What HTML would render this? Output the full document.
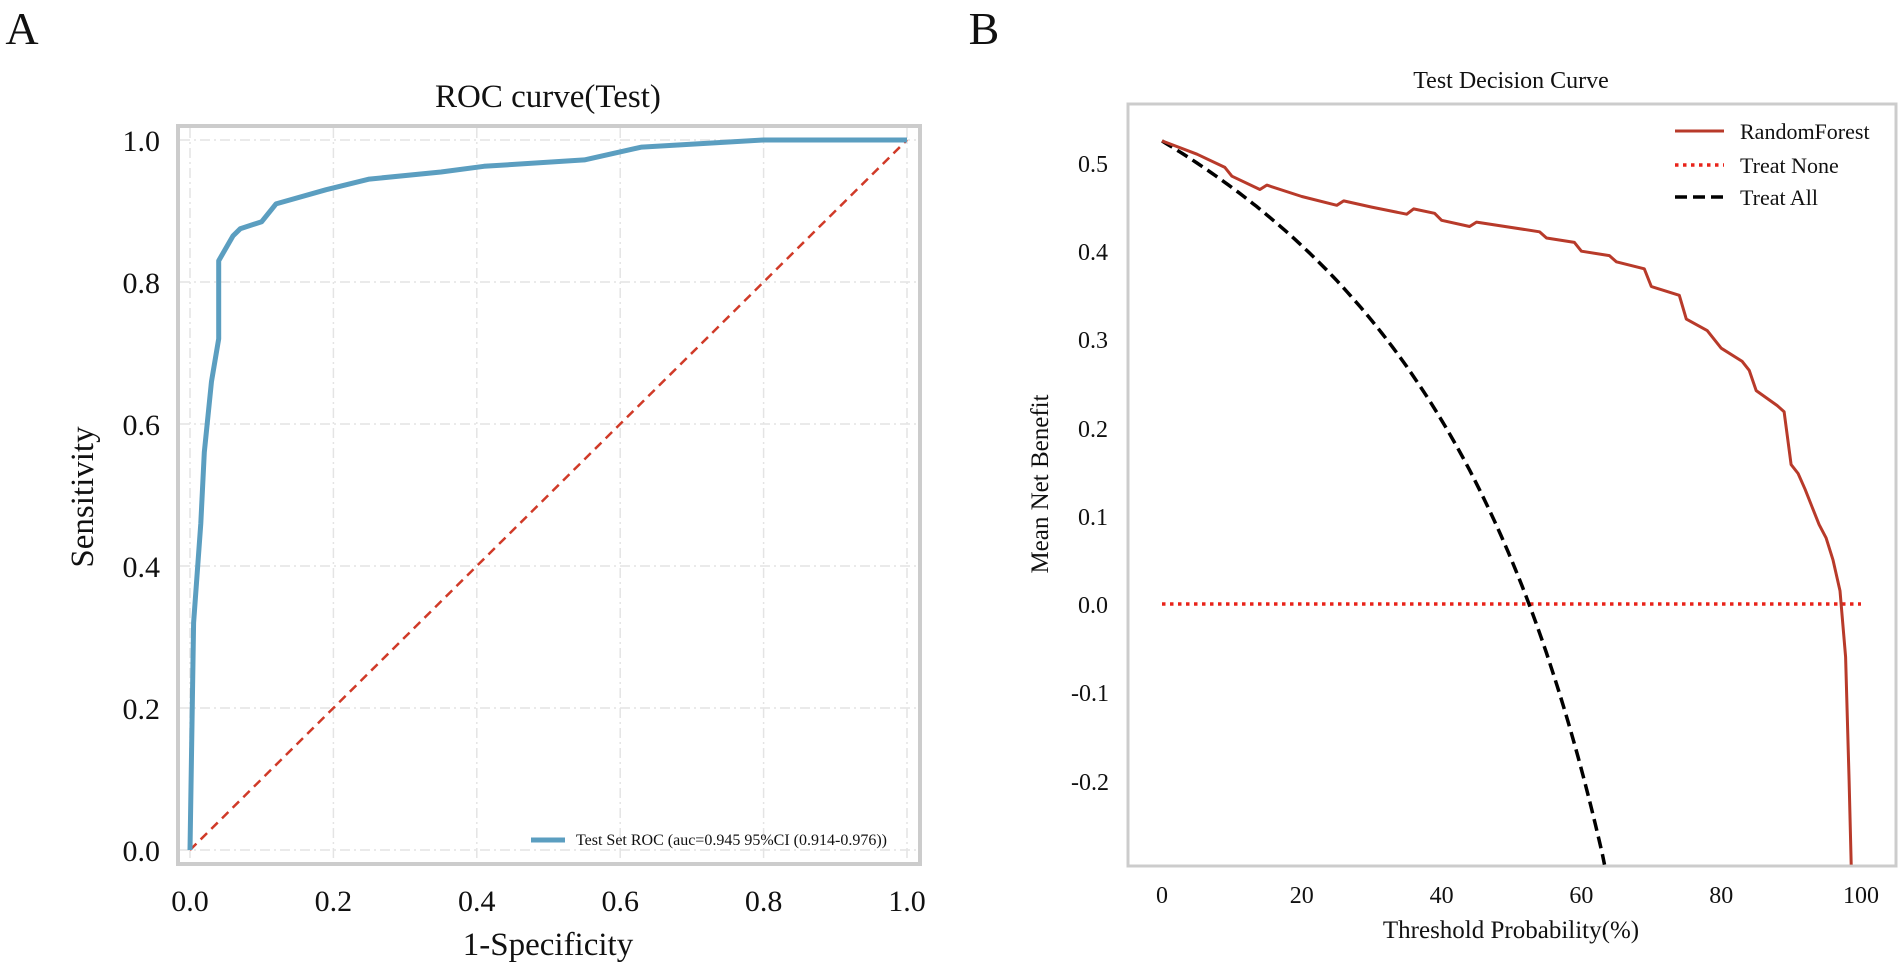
<!DOCTYPE html>
<html><head><meta charset="utf-8"><style>html,body{margin:0;padding:0;background:#fff}svg{display:block}</style></head>
<body>
<svg width="1900" height="967" viewBox="0 0 1900 967" xmlns="http://www.w3.org/2000/svg" font-family="Liberation Serif, serif" fill="#111">
<!-- Panel A -->
<text x="22" y="44" font-size="46" text-anchor="middle">A</text>
<text x="548" y="107" font-size="33" text-anchor="middle">ROC curve(Test)</text>
<g stroke="#e4e4e4" stroke-width="1.5" stroke-dasharray="10,4,2,4">
<line x1="190" y1="128" x2="190" y2="862"/><line x1="333.4" y1="128" x2="333.4" y2="862"/><line x1="476.8" y1="128" x2="476.8" y2="862"/><line x1="620.2" y1="128" x2="620.2" y2="862"/><line x1="763.6" y1="128" x2="763.6" y2="862"/><line x1="907" y1="128" x2="907" y2="862"/>
<line x1="180" y1="140" x2="918" y2="140"/><line x1="180" y1="282" x2="918" y2="282"/><line x1="180" y1="424" x2="918" y2="424"/><line x1="180" y1="566" x2="918" y2="566"/><line x1="180" y1="708" x2="918" y2="708"/><line x1="180" y1="850" x2="918" y2="850"/>
</g>
<rect x="178" y="126" width="742" height="738" fill="none" stroke="#cccccc" stroke-width="4"/>
<line x1="190" y1="850" x2="907" y2="140" stroke="#d03a28" stroke-width="2.5" stroke-dasharray="9,6"/>
<polyline fill="none" stroke="#5b9ec0" stroke-width="5" stroke-linejoin="round" points="190,850 193.6,622.8 200.8,523.4 204.3,452.4 211.5,381.4 218.7,338.8 218.7,260.7 233,235.9 240.2,228.8 261.7,221.7 276,203.9 326.2,189.7 369.3,179.1 441,172 484,166.3 584.4,159.9 641.7,147.1 763.6,140 907,140"/>
<g font-size="30" text-anchor="end">
<text x="160" y="151">1.0</text><text x="160" y="293">0.8</text><text x="160" y="435">0.6</text><text x="160" y="577">0.4</text><text x="160" y="719">0.2</text><text x="160" y="861">0.0</text>
</g>
<g font-size="30" text-anchor="middle">
<text x="190" y="911">0.0</text><text x="333.4" y="911">0.2</text><text x="476.8" y="911">0.4</text><text x="620.2" y="911">0.6</text><text x="763.6" y="911">0.8</text><text x="907" y="911">1.0</text>
</g>
<text x="548" y="955" font-size="33" text-anchor="middle">1-Specificity</text>
<text transform="translate(93,497) rotate(-90)" font-size="33" text-anchor="middle">Sensitivity</text>
<line x1="531" y1="840" x2="565" y2="840" stroke="#5b9ec0" stroke-width="5"/>
<text x="576" y="845" font-size="16">Test Set ROC (auc=0.945 95%CI (0.914-0.976))</text>

<!-- Panel B -->
<text x="984" y="44" font-size="46" text-anchor="middle">B</text>
<text x="1511" y="88" font-size="24" text-anchor="middle">Test Decision Curve</text>
<rect x="1128" y="104" width="768" height="762" fill="none" stroke="#cccccc" stroke-width="3"/>
<g font-size="24" text-anchor="middle">
<text x="1093" y="172">0.5</text><text x="1093" y="260">0.4</text><text x="1093" y="348">0.3</text><text x="1093" y="437">0.2</text><text x="1093" y="525">0.1</text><text x="1093" y="613">0.0</text><text x="1090" y="701">-0.1</text><text x="1090" y="790">-0.2</text>
</g>
<g font-size="24" text-anchor="middle">
<text x="1162" y="903">0</text><text x="1301.8" y="903">20</text><text x="1441.6" y="903">40</text><text x="1581.4" y="903">60</text><text x="1721.2" y="903">80</text><text x="1861" y="903">100</text>
</g>
<text x="1511" y="938" font-size="25" text-anchor="middle">Threshold Probability(%)</text>
<text transform="translate(1048,484) rotate(-90)" font-size="25" text-anchor="middle">Mean Net Benefit</text>
<line x1="1162" y1="604" x2="1861" y2="604" stroke="#e8231a" stroke-width="3.5" stroke-dasharray="3.5,4.5"/>
<path id="ta" fill="none" stroke="#000" stroke-width="3.5" stroke-dasharray="12,6" d=""/>
<polyline id="rf" fill="none" stroke="#b83a2a" stroke-width="3" stroke-linejoin="round" points=""/>
<line x1="1675" y1="131" x2="1724" y2="131" stroke="#b83a2a" stroke-width="3"/>
<line x1="1675" y1="165" x2="1724" y2="165" stroke="#e8231a" stroke-width="3.5" stroke-dasharray="3.5,4.5"/>
<line x1="1675" y1="197" x2="1724" y2="197" stroke="#000" stroke-width="3.5" stroke-dasharray="12,6"/>
<g font-size="22"><text x="1740" y="139">RandomForest</text><text x="1740" y="173">Treat None</text><text x="1740" y="205">Treat All</text></g>
</svg>
<script>
(function(){
var X=function(p){return 1162+p*6.99;},Y=function(v){return 604-v*882;};
var prev=0.525,d="";
for(var p=0;p<=63.3;p+=0.5){var t=p/100,v=prev-(1-prev)*t/(1-t);if(v<-0.2955)v=-0.2955;d+=(p==0?"M":"L")+X(p).toFixed(1)+","+Y(v).toFixed(1)+" ";}
d+="L"+X(63.3).toFixed(1)+","+Y(-0.2955).toFixed(1);
document.getElementById("ta").setAttribute("d",d);
var pts=[[0,0.525],[5,0.51],[9,0.495],[10,0.485],[14,0.47],[15,0.475],[20,0.462],[25,0.452],[26,0.457],[30,0.45],[35,0.442],[36,0.448],[39,0.443],[40,0.435],[44,0.428],[45,0.433],[54,0.422],[55,0.415],[59,0.41],[60,0.4],[64,0.395],[65,0.388],[69,0.38],[70,0.36],[74,0.35],[75,0.323],[78,0.31],[80,0.29],[83,0.275],[84,0.265],[85,0.242],[88,0.225],[89,0.218],[90,0.158],[91,0.148],[92,0.13],[93,0.11],[94,0.09],[95,0.075],[96,0.05],[97,0.015],[97.8,-0.06],[98.3,-0.2],[98.6,-0.2955]];
document.getElementById("rf").setAttribute("points",pts.map(function(q){return X(q[0]).toFixed(1)+","+Y(q[1]).toFixed(1);}).join(" "));
})();
</script>
</body></html>
